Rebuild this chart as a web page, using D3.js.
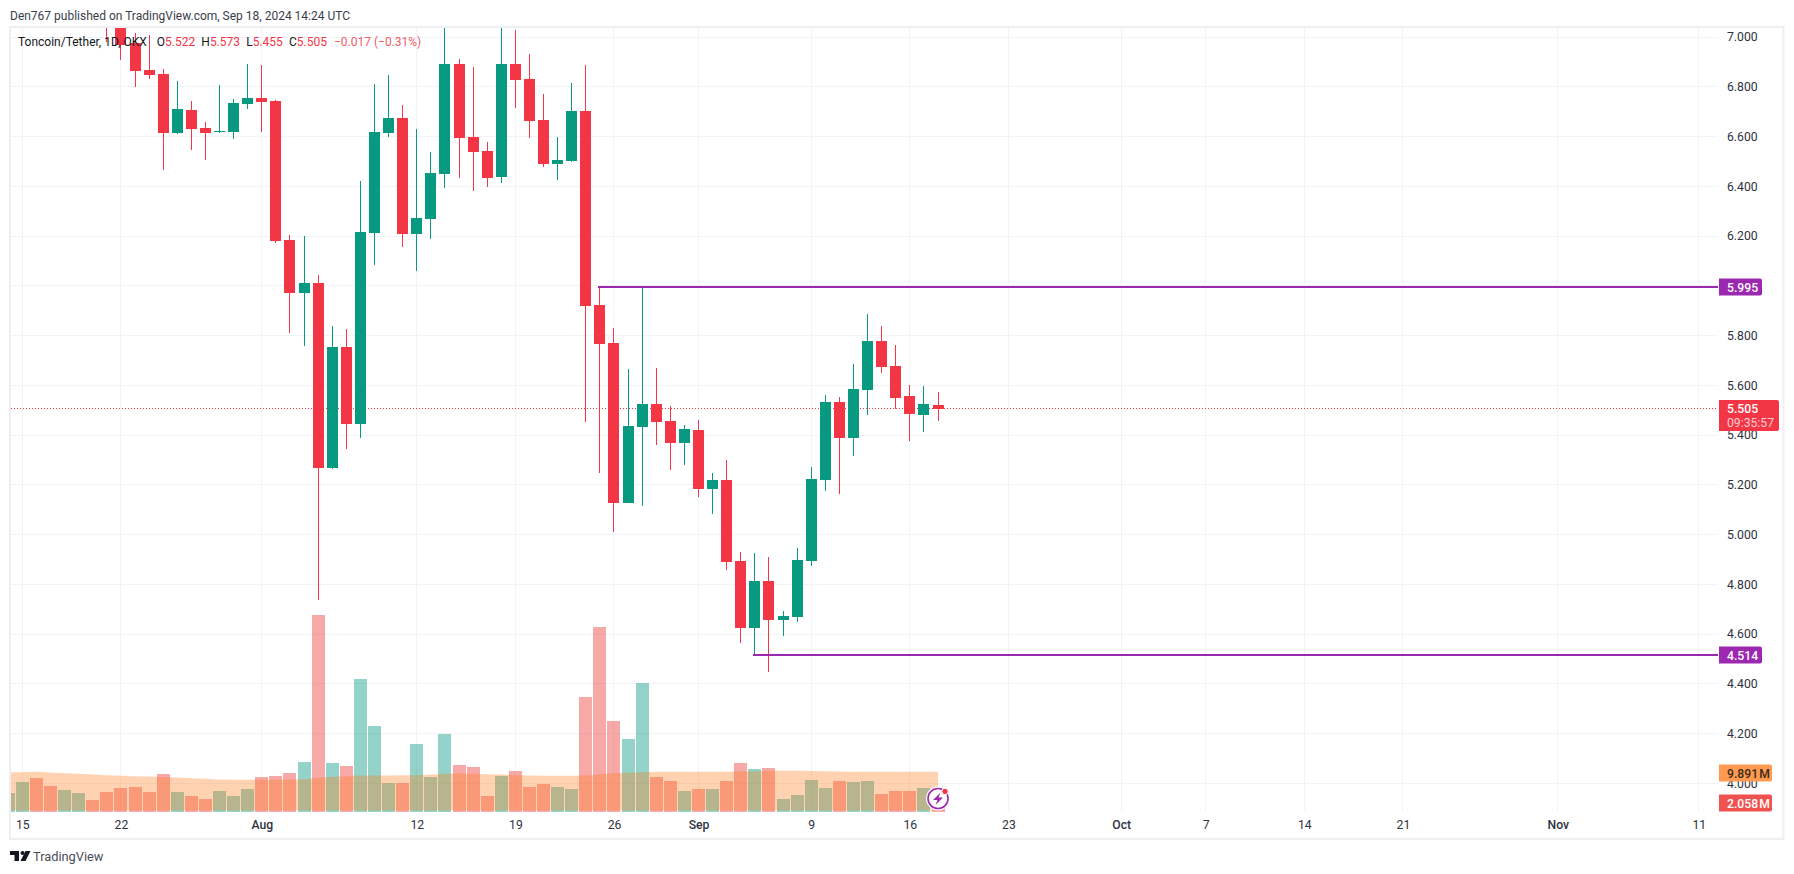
<!DOCTYPE html>
<html>
<head>
<meta charset="utf-8">
<style>
  html, body { margin: 0; padding: 0; background: #fff; }
  text { font-family: Roboto, "Open Sans", sans-serif; }
</style>
<script src="https://cdn.jsdelivr.net/npm/d3@7"></script>
</head>
<body>
<div id="chart"></div>
<script>
var w = 1794,
    h = 874;

// candles run from Jul 21 to Sep 18, the earlier ones are above the visible range
var candleStart = "2024-07-21";
var opens = [7.2, 7.07, 6.976, 6.867, 6.851, 6.615, 6.707, 6.634, 6.618, 6.618, 6.731, 6.755, 6.743, 6.184, 5.972, 6.011, 5.267, 5.754, 5.444, 6.212, 6.614, 6.674, 6.208, 6.268, 6.449, 6.891, 6.598, 6.542, 6.437, 6.891, 6.831, 6.666, 6.489, 6.502, 6.703, 5.923, 5.77, 5.127, 5.432, 5.525, 5.456, 5.368, 5.42, 5.183, 5.219, 4.894, 4.624, 4.813, 4.656, 4.669, 4.894, 5.219, 5.533, 5.388, 5.581, 5.778, 5.678, 5.557, 5.481, 5.522];
var highs = [7.25, 7.12, 7.015, 7.008, 6.871, 6.823, 6.743, 6.658, 6.807, 6.751, 6.891, 6.887, 6.747, 6.204, 6.2, 6.043, 5.838, 5.826, 6.421, 6.811, 6.847, 6.727, 6.63, 6.538, 7.06, 6.912, 6.879, 6.578, 7.06, 7.03, 6.932, 6.771, 6.598, 6.815, 6.887, 5.995, 5.83, 5.665, 5.996, 5.669, 5.517, 5.44, 5.46, 5.247, 5.3, 4.93, 4.926, 4.91, 4.693, 4.946, 5.271, 5.561, 5.553, 5.686, 5.887, 5.838, 5.762, 5.601, 5.597, 5.573];
var lows = [6.98, 6.908, 6.8, 6.833, 6.465, 6.61, 6.546, 6.506, 6.615, 6.59, 6.711, 6.618, 6.172, 5.81, 5.758, 4.737, 5.262, 5.344, 5.388, 6.083, 6.598, 6.156, 6.059, 6.188, 6.393, 6.433, 6.381, 6.397, 6.413, 6.715, 6.594, 6.477, 6.425, 6.498, 5.452, 5.247, 5.01, 5.127, 5.115, 5.36, 5.26, 5.28, 5.151, 5.083, 4.857, 4.564, 4.516, 4.447, 4.592, 4.649, 4.874, 5.175, 5.163, 5.316, 5.481, 5.65, 5.505, 5.376, 5.412, 5.455];
var closes = [7.1, 6.969, 6.865, 6.849, 6.615, 6.711, 6.632, 6.615, 6.622, 6.735, 6.755, 6.739, 6.18, 5.972, 6.011, 5.267, 5.754, 5.444, 6.216, 6.618, 6.674, 6.208, 6.272, 6.453, 6.891, 6.594, 6.538, 6.433, 6.891, 6.827, 6.662, 6.489, 6.506, 6.703, 5.919, 5.766, 5.127, 5.436, 5.525, 5.452, 5.368, 5.424, 5.183, 5.219, 4.89, 4.624, 4.813, 4.656, 4.672, 4.898, 5.223, 5.533, 5.388, 5.585, 5.778, 5.674, 5.549, 5.485, 5.525, 5.505];

// volume in millions, Jul 14 to Sep 18
var volumeStart = "2024-07-14";
var volumes = [4.67, 7.58, 8.64, 6.53, 5.47, 4.67, 2.82, 4.94, 6.0, 6.26, 4.94, 9.7, 4.94, 3.88, 3.09, 5.2, 3.88, 5.73, 8.9, 9.17, 9.96, 12.87, 51.8, 12.6, 11.82, 34.8, 22.4, 7.32, 7.32, 17.64, 8.9, 20.3, 12.08, 11.55, 3.88, 9.17, 10.49, 6.26, 7.05, 6.26, 5.73, 30.07, 48.6, 23.7, 18.96, 33.8, 8.9, 7.85, 5.2, 5.73, 5.73, 7.85, 12.6, 11.02, 11.29, 3.09, 4.14, 8.11, 6.0, 7.85, 7.58, 7.85, 4.41, 5.2, 5.2, 6.0, 2.058];
var volumeUp = [1, 1, 0, 0, 1, 1, 0, 0, 0, 0, 0, 0, 1, 0, 0, 1, 1, 1, 0, 0, 0, 1, 0, 1, 0, 1, 1, 1, 0, 1, 1, 1, 0, 0, 0, 1, 0, 0, 0, 1, 1, 0, 0, 0, 1, 1, 0, 0, 1, 0, 1, 0, 0, 1, 0, 1, 1, 1, 1, 0, 1, 1, 0, 0, 0, 1, 0];
var volumeMA = [10.14, 10.14, 10.23, 10.05, 9.88, 9.7, 9.52, 9.35, 9.17, 9.04, 9.0, 8.82, 8.73, 8.55, 8.38, 8.2, 8.11, 8.11, 8.11, 8.11, 8.2, 8.29, 8.64, 8.9, 9.08, 9.26, 9.26, 9.26, 9.35, 9.35, 9.52, 9.7, 9.79, 9.7, 9.61, 9.52, 9.35, 9.26, 9.17, 9.17, 9.17, 9.26, 9.61, 9.88, 9.96, 10.14, 10.23, 10.23, 10.23, 10.23, 10.23, 10.27, 10.32, 10.41, 10.49, 10.49, 10.49, 10.45, 10.41, 10.32, 10.27, 10.23, 10.23, 10.23, 10.23, 10.23, 10.23];

var priceTicks = [7, 6.8, 6.6, 6.4, 6.2, 6, 5.8, 5.6, 5.4, 5.2, 5, 4.8, 4.6, 4.4, 4.2, 4];
var timeTicks = ["2024-07-15", "2024-07-22", "2024-08-01", "2024-08-12", "2024-08-19", "2024-08-26", "2024-09-01", "2024-09-09", "2024-09-16", "2024-09-23", "2024-10-01", "2024-10-07", "2024-10-14", "2024-10-21", "2024-11-01", "2024-11-11"];

var levels = [
  {price: 5.995, from: "2024-08-25"},
  {price: 4.514, from: "2024-09-05"}
];
var lastPrice = 5.505,
    countdown = "09:35:57",
    lastVolumeMA = 9.891,
    lastVolume = 2.058;

var legend = [
  {t: "Toncoin/Tether, 1D, OKX", c: "#131722", gap: 0},
  {t: "O", c: "#131722", gap: 10}, {t: "5.522", c: "#f23645", gap: 0},
  {t: "H", c: "#131722", gap: 6.2}, {t: "5.573", c: "#f23645", gap: 0},
  {t: "L", c: "#131722", gap: 6.2}, {t: "5.455", c: "#f23645", gap: 0},
  {t: "C", c: "#131722", gap: 6.2}, {t: "5.505", c: "#f23645", gap: 0},
  {t: "\u22120.017 (\u22120.31%)", c: "#f23645", gap: 7}
];

var red = "#f23645",
    green = "#089981",
    purple = "#9c27b0",
    gridColor = "#f2f3f6",
    frameColor = "#eeeff3";

var pane = {left: 11, top: 28, right: 1718, bottom: 811};

var day = function(s) { return d3.utcParse("%Y-%m-%d")(s); };

var x = d3.scaleUtc()
    .domain([day("2024-07-15"), day("2024-11-11")])
    .range([22.3, 1698.77]);

var y = d3.scaleLinear()
    .domain([7, 4])
    .range([37, 783.3]);

var yVol = d3.scaleLinear()
    .domain([0, 60])
    .range([810.5, 810.5 - 60 * 3.78]);

var px = function(d) { return Math.floor(x(d)); };

var candles = opens.map(function(o, i) {
  return {date: d3.utcDay.offset(day(candleStart), i), o: o, h: highs[i], l: lows[i], c: closes[i]};
});
var bars = volumes.map(function(v, i) {
  return {date: d3.utcDay.offset(day(volumeStart), i), v: v, up: volumeUp[i], ma: volumeMA[i]};
});

var svg = d3.select("#chart")
    .append("svg")
    .attr("width", w)
    .attr("height", h)
    .style("display", "block");

svg.append("defs").append("clipPath")
    .attr("id", "pane-clip")
  .append("rect")
    .attr("x", pane.left)
    .attr("y", pane.top)
    .attr("width", pane.right - pane.left)
    .attr("height", pane.bottom - pane.top + 1);

// header
svg.append("text")
    .attr("x", 10)
    .attr("y", 19.5)
    .attr("font-size", 12)
    .attr("fill", "#3a3e4a")
    .text("Den767 published on TradingView.com, Sep 18, 2024 14:24 UTC");

// frame
svg.append("rect")
    .attr("x", 10)
    .attr("y", 27)
    .attr("width", 1773.5)
    .attr("height", 812)
    .attr("fill", "none")
    .attr("stroke", frameColor)
    .attr("stroke-width", 2);

var dates = timeTicks.map(day);

// grid
var grid = svg.append("g").attr("shape-rendering", "crispEdges");
grid.selectAll(".gy")
    .data(priceTicks)
    .enter().append("line")
    .attr("x1", pane.left)
    .attr("x2", pane.right)
    .attr("y1", function(d) { return Math.floor(y(d)) + 0.5; })
    .attr("y2", function(d) { return Math.floor(y(d)) + 0.5; })
    .attr("stroke", gridColor);
grid.selectAll(".gx")
    .data(dates)
    .enter().append("line")
    .attr("x1", function(d) { return px(d) + 0.5; })
    .attr("x2", function(d) { return px(d) + 0.5; })
    .attr("y1", pane.top)
    .attr("y2", pane.bottom)
    .attr("stroke", gridColor);

// last price line
svg.append("line")
    .attr("x1", pane.left)
    .attr("x2", pane.right)
    .attr("y1", Math.floor(y(lastPrice)) + 0.5)
    .attr("y2", Math.floor(y(lastPrice)) + 0.5)
    .attr("stroke", red)
    .attr("stroke-dasharray", "1 2");

var plot = svg.append("g").attr("clip-path", "url(#pane-clip)");

// volume bars, then the moving average area on top
plot.append("g")
    .attr("shape-rendering", "crispEdges")
    .selectAll("rect")
    .data(bars)
    .enter().append("rect")
    .attr("x", function(d) { return px(d.date) - 6; })
    .attr("width", 13)
    .attr("y", function(d) { return yVol(d.v); })
    .attr("height", function(d) { return yVol(0) - yVol(d.v) + 1; })
    .attr("fill", function(d) { return d.up ? green : "#ef5350"; })
    .attr("fill-opacity", function(d) { return d.up ? 0.43 : 0.5; });

var maArea = d3.area()
    .x(function(d) { return x(d.date); })
    .y0(yVol(0))
    .y1(function(d) { return yVol(d.ma); });

plot.append("path")
    .datum(bars)
    .attr("d", maArea)
    .attr("fill", "#ff7a14")
    .attr("fill-opacity", 0.33);

// candles
var candle = plot.append("g")
    .attr("shape-rendering", "crispEdges")
    .selectAll("g")
    .data(candles)
    .enter().append("g")
    .attr("fill", function(d) { return d.c >= d.o ? green : red; });

candle.append("rect")
    .attr("x", function(d) { return px(d.date); })
    .attr("width", 1)
    .attr("y", function(d) { return y(d.h); })
    .attr("height", function(d) { return y(d.l) - y(d.h); });

candle.append("rect")
    .attr("x", function(d) { return px(d.date) - 5; })
    .attr("width", 11)
    .attr("y", function(d) { return y(Math.max(d.o, d.c)); })
    .attr("height", function(d) { return Math.max(1, Math.abs(y(d.o) - y(d.c))); });

// horizontal levels
svg.append("g")
    .attr("shape-rendering", "crispEdges")
    .selectAll("line")
    .data(levels)
    .enter().append("line")
    .attr("x1", function(d) { return x(day(d.from)) - 1.5; })
    .attr("x2", pane.right)
    .attr("y1", function(d) { return Math.round(y(d.price)); })
    .attr("y2", function(d) { return Math.round(y(d.price)); })
    .attr("stroke", purple)
    .attr("stroke-width", 2);

// legend
var legendText = svg.append("text")
    .attr("x", 18)
    .attr("y", 46)
    .attr("font-size", 12);
legendText.selectAll("tspan")
    .data(legend)
    .enter().append("tspan")
    .attr("dx", function(d) { return d.gap; })
    .attr("fill", function(d) { return d.c; })
    .attr("fill-opacity", function(d, i) { return i === legend.length - 1 ? 0.85 : 1; })
    .text(function(d) { return d.t; });

// axes
var yAxis = d3.axisRight(y)
    .tickValues(priceTicks)
    .tickFormat(d3.format(".3f"))
    .tickSize(0)
    .tickPadding(9);

var yG = svg.append("g")
    .attr("transform", "translate(" + pane.right + ",0)")
    .call(yAxis);
yG.select(".domain").remove();
yG.selectAll("text")
    .attr("font-size", 12.2)
    .attr("fill", "#2e3240");

var xAxis = d3.axisBottom(x)
    .tickValues(dates)
    .tickFormat(function(d) {
      return d.getUTCDate() === 1 ? d3.utcFormat("%b")(d) : d3.utcFormat("%-d")(d);
    })
    .tickSize(0)
    .tickPadding(9);

var xG = svg.append("g")
    .attr("transform", "translate(0," + pane.bottom + ")")
    .call(xAxis);
xG.select(".domain").remove();
xG.selectAll("text")
    .attr("font-size", 12.2)
    .attr("fill", "#2e3240")
    .attr("font-weight", function(d) { return d.getUTCDate() === 1 ? 500 : 400; });

// price labels on the scale
var tags = [
  {v: y(levels[0].price), label: levels[0].price.toFixed(3), w: 43, fill: purple, color: "#fff"},
  {v: y(levels[1].price), label: levels[1].price.toFixed(3), w: 43, fill: purple, color: "#fff"},
  {v: yVol(lastVolumeMA), label: lastVolumeMA.toFixed(3) + "\u200aM", w: 53, fill: "#ff9a50", color: "#3b2a1a"},
  {v: yVol(lastVolume), label: lastVolume.toFixed(3) + "\u200aM", w: 53, fill: "#ef5350", color: "#fff"}
];

var tag = svg.append("g")
    .selectAll("g")
    .data(tags)
    .enter().append("g")
    .attr("transform", function(d) { return "translate(1719," + Math.round(d.v) + ")"; });
tag.append("path")
    .attr("d", function(d) { return "M0,-8.5H" + (d.w - 2) + "Q" + d.w + ",-8.5 " + d.w + ",-6.5V6.5Q" + d.w + ",8.5 " + (d.w - 2) + ",8.5H0Z"; })
    .attr("fill", function(d) { return d.fill; });
tag.append("text")
    .attr("x", 8)
    .attr("y", 4.5)
    .attr("font-size", 12.2)
    .attr("font-weight", 500)
    .attr("fill", function(d) { return d.color; })
    .text(function(d) { return d.label; });

var lastTag = svg.append("g");
lastTag.append("path")
    .attr("d", "M1719,400H1777Q1779,400 1779,402V429Q1779,431 1777,431H1719Z")
    .attr("fill", red);
lastTag.append("text")
    .attr("x", 1727)
    .attr("y", y(lastPrice) + 4)
    .attr("font-size", 12.2)
    .attr("font-weight", 500)
    .attr("fill", "#fff")
    .text(lastPrice.toFixed(3));
lastTag.append("text")
    .attr("x", 1727)
    .attr("y", y(lastPrice) + 18)
    .attr("font-size", 12.2)
    .attr("fill", "#fff")
    .attr("fill-opacity", 0.75)
    .text(countdown);

// lightning badge on the last bar
var badge = svg.append("g")
    .attr("transform", "translate(" + x(bars[bars.length - 1].date) + ",798.5)");
badge.append("circle").attr("r", 12).attr("fill", "#fff");
badge.append("circle").attr("r", 10).attr("fill", "#fff").attr("stroke", purple).attr("stroke-width", 1.6);
badge.append("path")
    .attr("d", "M2.5,-6L-5,1.5H-0.5L-2.5,6.5L5,-1H0.5Z")
    .attr("fill", purple);
badge.append("circle").attr("cx", 7).attr("cy", -7).attr("r", 3.2).attr("fill", red).attr("stroke", "#fff").attr("stroke-width", 1);

// footer logo
var logo = svg.append("g").attr("transform", "translate(10,851)").attr("fill", "#131722");
logo.append("path").attr("d", "M0,0H9V10H4.5V4H0Z");
logo.append("circle").attr("cx", 12.5).attr("cy", 2).attr("r", 2);
logo.append("path").attr("d", "M15.5,0H20.5L15.5,10H10.5Z");
svg.append("text")
    .attr("x", 33)
    .attr("y", 861)
    .attr("font-size", 12.8)
    .attr("fill", "#4a4e5a")
    .text("TradingView");
</script>
</body>
</html>
